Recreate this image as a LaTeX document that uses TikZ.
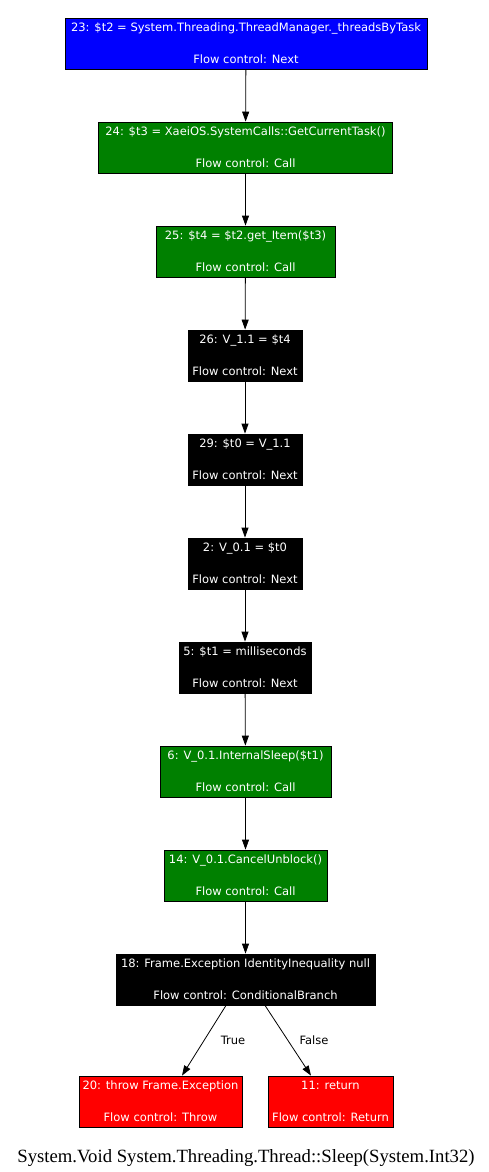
\documentclass[tikz,border=0pt]{standalone}
\usepackage{fontspec}
\setmainfont{Liberation Serif}
\newfontfamily\nodefont{DejaVu Sans}
\usetikzlibrary{arrows.meta}
\definecolor{cfgblue}{RGB}{0,0,255}
\definecolor{cfggreen}{RGB}{0,128,0}
\definecolor{cfgred}{RGB}{255,0,0}
\tikzset{
  block/.style={draw=black, line width=0.8pt, text=white, align=center,
    minimum height=51pt, inner xsep=0pt, inner ysep=0pt,
    font=\nodefont\fontsize{11.5}{16}\selectfont},
  flow/.style={-{Triangle[length=10pt,width=7pt]}, line width=0.8pt},
  elabel/.style={font=\nodefont\fontsize{11.5}{13}\selectfont, text=black}
}
\begin{document}
\begin{tikzpicture}[x=1pt,y=-1pt]
\useasboundingbox[fill=white] (0,0) rectangle (489,1172);
\node[block, fill=cfgblue, minimum width=362pt] (n23) at (246,43.5)
  {23: \$t2 = System.Threading.ThreadManager.\_threadsByTask\\ \\Flow control: Next};
\node[block, fill=cfggreen, minimum width=294pt] (n24) at (245.5,147.5)
  {24: \$t3 = XaeiOS.SystemCalls::GetCurrentTask()\\ \\Flow control: Call};
\node[block, fill=cfggreen, minimum width=179pt] (n25) at (245.5,251.5)
  {25: \$t4 = \$t2.get\_Item(\$t3)\\ \\Flow control: Call};
\node[block, fill=black, minimum width=114pt] (n26) at (245,355.5)
  {26: V\_1.1 = \$t4\\ \\Flow control: Next};
\node[block, fill=black, minimum width=114pt] (n29) at (245,459.5)
  {29: \$t0 = V\_1.1\\ \\Flow control: Next};
\node[block, fill=black, minimum width=114pt] (n2) at (245,563.5)
  {2: V\_0.1 = \$t0\\ \\Flow control: Next};
\node[block, fill=black, minimum width=132pt] (n5) at (245,667.5)
  {5: \$t1 = milliseconds\\ \\Flow control: Next};
\node[block, fill=cfggreen, minimum width=171pt] (n6) at (245.5,771.5)
  {6: V\_0.1.InternalSleep(\$t1)\\ \\Flow control: Call};
\node[block, fill=cfggreen, minimum width=163pt] (n14) at (245.5,875.5)
  {14: V\_0.1.CancelUnblock()\\ \\Flow control: Call};
\node[block, fill=black, minimum width=259pt] (n18) at (245.5,979.5)
  {18: Frame.Exception IdentityInequality null\\ \\Flow control: ConditionalBranch};
\node[block, fill=cfgred, minimum width=163pt] (n20) at (160.5,1101.5)
  {20: throw Frame.Exception\\ \\Flow control: Throw};
\node[block, fill=cfgred, minimum width=125pt] (n11) at (330.5,1101.5)
  {11: return\\ \\Flow control: Return};

\draw[flow] (n23) -- (n24);
\draw[flow] (n24) -- (n25);
\draw[flow] (n25) -- (n26);
\draw[flow] (n26) -- (n29);
\draw[flow] (n29) -- (n2);
\draw[flow] (n2) -- (n5);
\draw[flow] (n5) -- (n6);
\draw[flow] (n6) -- (n14);
\draw[flow] (n14) -- (n18);
\draw[flow] (n18.south -| 226,0) -- (n20.north -| 182,0);
\draw[flow] (n18.south -| 265,0) -- (n11.north -| 311,0);
\node[elabel] (ltrue) at (233,1040) {True};
\node[elabel] (lfalse) at (314,1040) {False};

\node[font=\fontsize{18.7}{22}\selectfont, anchor=base] (caption) at (246,1162)
  {System.Void System.Threading.Thread::Sleep(System.Int32)};
\end{tikzpicture}
\end{document}
